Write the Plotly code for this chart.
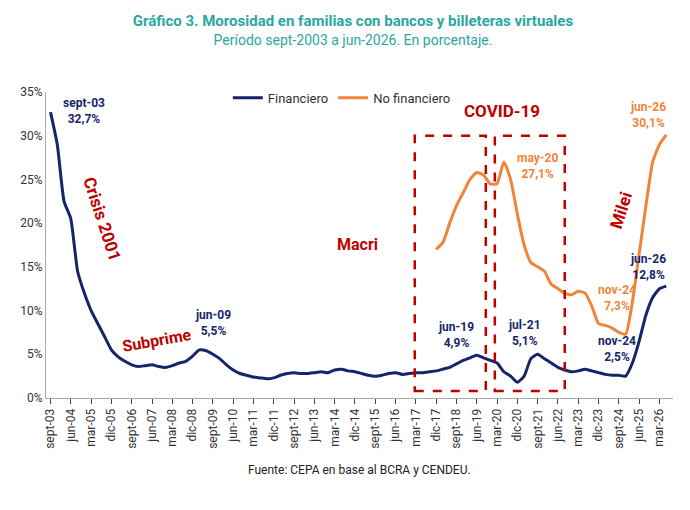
import plotly.graph_objects as go

# quarterly readings, sept-03 .. jun-26
financiero = [
    32.7, 29.0,
    22.5, 20.5, 14.5, 12.0,
    10.0, 8.5, 7.0, 5.5,
    4.7, 4.2, 3.8, 3.6,
    3.7, 3.8, 3.6, 3.5,
    3.7, 4.0, 4.2, 4.8,
    5.5, 5.4, 5.0, 4.5,
    3.8, 3.2, 2.8, 2.6,
    2.4, 2.3, 2.2, 2.3,
    2.6, 2.8, 2.9, 2.8,
    2.8, 2.9, 3.0, 2.9,
    3.2, 3.3, 3.1, 3.0,
    2.8, 2.6, 2.5, 2.6,
    2.8, 2.9, 2.7, 2.8,
    2.9, 2.9, 3.0, 3.1,
    3.3, 3.5, 3.9, 4.3,
    4.6, 4.9, 4.6, 4.3,
    4.0, 3.0, 2.5, 1.8,
    2.5, 4.5, 5.0, 4.5,
    4.0, 3.5, 3.2, 3.0,
    3.1, 3.3, 3.1, 2.9,
    2.7, 2.6, 2.6, 2.5,
    4.0, 6.5, 9.5, 11.5,
    12.5, 12.8,
]
# quarterly readings, dic-17 .. jun-26
no_financiero = [
    17.0,
    17.8, 20.0, 22.0, 23.5,
    25.0, 25.8, 25.5, 24.5,
    24.5, 27.0, 25.0, 21.0,
    17.5, 15.5, 15.0, 14.5,
    13.0, 12.5, 12.0, 11.8,
    12.2, 12.0, 10.5, 8.5,
    8.3, 8.0, 7.5, 7.3,
    11.0, 16.5, 22.0, 27.0,
    29.0, 30.1,
]
tick_labels = ["sept-03", "jun-04", "mar-05", "dic-05", "sept-06", "jun-07", "mar-08",
               "dic-08", "sept-09", "jun-10", "mar-11", "dic-11", "sept-12", "jun-13",
               "mar-14", "dic-14", "sept-15", "jun-16", "mar-17", "dic-17", "sept-18",
               "jun-19", "mar-20", "dic-20", "sept-21", "jun-22", "mar-23", "dic-23",
               "sept-24", "jun-25", "mar-26"]

x_fin = [3 * i for i in range(len(financiero))]
x_nof = [171 + 3 * i for i in range(len(no_financiero))]

NAVY = "#16256b"
ORANGE = "#f0843a"
RED = "#c00000"

fig = go.Figure()
fig.add_trace(go.Scatter(x=x_fin, y=financiero, mode="lines", name="Financiero",
                         line=dict(color=NAVY, width=3, shape="spline", smoothing=0.5)))
fig.add_trace(go.Scatter(x=x_nof, y=no_financiero, mode="lines", name="No financiero",
                         line=dict(color=ORANGE, width=3, shape="spline", smoothing=0.5)))

for x0, x1 in [(161.5, 193), (197, 228)]:
    fig.add_shape(type="rect", x0=x0, x1=x1, y0=0.8, y1=30, line=dict(color=RED, width=2.5, dash="dash"))

def lab(x, y, text, color, size=12, angle=0, bold=True):
    fig.add_annotation(x=x, y=y, text=f"<b>{text}</b>" if bold else text, showarrow=False,
                       font=dict(color=color, size=size), textangle=angle)

lab(15, 32.8, "sept-03<br>32,7%", NAVY)
lab(72, 8.6, "jun-09<br>5,5%", NAVY)
lab(180, 7.2, "jun-19<br>4,9%", NAVY)
lab(210, 7.4, "jul-21<br>5,1%", NAVY)
lab(251, 5.6, "nov-24<br>2,5%", NAVY)
lab(265, 15.0, "jun-26<br>12,8%", NAVY)
lab(216, 26.5, "may-20<br>27,1%", ORANGE)
lab(251, 11.4, "nov-24<br>7,3%", ORANGE)
lab(265, 32.4, "jun-26<br>30,1%", ORANGE)
lab(200, 32.8, "COVID-19", RED, size=17)
lab(136, 17.6, "Macri", RED, size=16)
lab(23, 20.5, "Crisis 2001", RED, size=17, angle=72)
lab(47, 6.6, "Subprime", RED, size=16, angle=-10)
lab(253, 21.5, "Milei", RED, size=17, angle=-72)

fig.update_layout(
    width=690, height=510,
    paper_bgcolor="white", plot_bgcolor="white",
    font=dict(family="Roboto, sans-serif", color="#333"),
    title=dict(text="<b>Gráfico 3. Morosidad en familias con bancos y billeteras virtuales</b>"
                    "<br><span style='font-size:14px'>Período sept-2003 a jun-2026. En porcentaje.</span>",
               x=0.5, y=0.965, font=dict(size=15, color="#2aa7a0")),
    margin=dict(l=38, r=25, t=84, b=120),
    showlegend=True,
    legend=dict(orientation="h", x=0.29, xanchor="left", y=1.03, yanchor="top",
                font=dict(size=13), bgcolor="rgba(0,0,0,0)"),
    xaxis=dict(range=[-2, 276], tickvals=[9 * i for i in range(len(tick_labels))],
               ticktext=tick_labels, tickangle=-90, showgrid=False, zeroline=False,
               showline=True, linecolor="#aaa", ticks="outside", tickfont=dict(size=12)),
    yaxis=dict(range=[0, 35], dtick=5, ticksuffix="%", showgrid=False, zeroline=False,
               showline=True, linecolor="#aaa", tickfont=dict(size=12)),
)
fig.add_annotation(x=0.5, y=-0.265, xref="paper", yref="paper", showarrow=False,
                   text="Fuente: CEPA en base al BCRA y CENDEU.", font=dict(size=12, color="#222"))

fig.write_html("out.html")
